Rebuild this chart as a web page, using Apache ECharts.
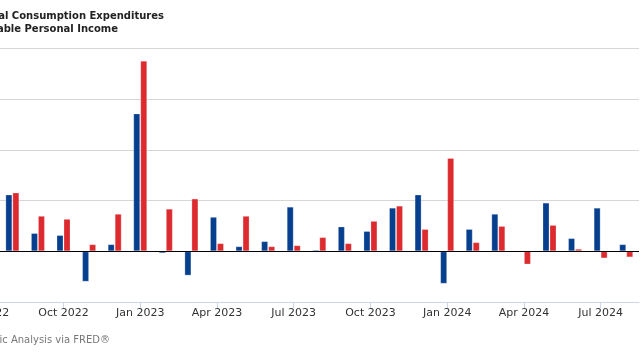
<!DOCTYPE html>
<html>
<head>
<meta charset="utf-8">
<script src="https://cdn.jsdelivr.net/npm/echarts@6/dist/echarts.min.js"></script>
<style>
html,body{margin:0;padding:0;background:#fff;}
#chart{width:640px;height:360px;}
</style>
</head>
<body>
<div id="chart"></div>
<script>
const months = ['Jul 2022','Aug 2022','Sep 2022','Oct 2022','Nov 2022','Dec 2022',
  'Jan 2023','Feb 2023','Mar 2023','Apr 2023','May 2023','Jun 2023',
  'Jul 2023','Aug 2023','Sep 2023','Oct 2023','Nov 2023','Dec 2023',
  'Jan 2024','Feb 2024','Mar 2024','Apr 2024','May 2024','Jun 2024',
  'Jul 2024','Aug 2024'];
const pce = [null,0.56,0.18,0.16,-0.30,0.07,1.36,-0.02,-0.24,0.34,0.05,0.10,
  0.44,0.015,0.245,0.20,0.43,0.56,-0.32,0.22,0.37,0.0,0.48,0.13,0.43,0.07];
const dpi = [null,0.58,0.35,0.32,0.07,0.37,1.88,0.42,0.52,0.08,0.35,0.05,
  0.06,0.14,0.08,0.30,0.45,0.22,0.92,0.09,0.25,-0.13,0.26,0.025,-0.07,-0.06];
const seriesNames = ['Personal Consumption Expenditures','Disposable Personal Income'];
const sourceText = 'Source: U.S. Bureau of Economic Analysis via FRED®';

const chart = echarts.init(document.getElementById('chart'), null, {renderer:'canvas'});
chart.setOption({
  animation:false,
  backgroundColor:'#ffffff',
  grid:{left:-26,right:1,top:48.5,bottom:58,containLabel:false,outerBoundsMode:'none'},
  xAxis:{
    type:'category',
    data:months,
    boundaryGap:true,
    axisLine:{show:true,onZero:false,lineStyle:{color:'#ccd6eb',width:1}},
    axisTick:{show:true,alignWithLabel:true,interval:2,length:6,lineStyle:{color:'#ccd6eb'}},
    axisLabel:{interval:2,color:'#333333',fontFamily:'DejaVu Sans',fontSize:11,margin:6,hideOverlap:false},
    splitLine:{show:false}
  },
  yAxis:{
    type:'value',
    min:-0.5,max:2.0,interval:0.5,
    axisLabel:{show:false},
    axisLine:{show:false},
    axisTick:{show:false},
    splitLine:{lineStyle:{color:'#d6d6d6',width:1}}
  },
  series:[
    {name:seriesNames[0],type:'bar',data:pce,barWidth:7,barGap:'0%',
     itemStyle:{color:'#063f8e',borderColor:'rgba(255,255,255,0.25)',borderWidth:1},
     markLine:{silent:true,symbol:'none',label:{show:false},
       lineStyle:{color:'#000000',width:1.2,type:'solid'},data:[{yAxis:0}]}},
    {name:seriesNames[1],type:'bar',data:dpi,barWidth:7,barGap:'0%',
     itemStyle:{color:'#dc2a2e',borderColor:'rgba(255,255,255,0.25)',borderWidth:1}}
  ],
  graphic:[
    {type:'text',x:164,y:16,style:{text:seriesNames[0],align:'right',verticalAlign:'middle',
      fill:'#222222',font:'bold 10px "DejaVu Sans"'}},
    {type:'text',x:118,y:29,style:{text:seriesNames[1],align:'right',verticalAlign:'middle',
      fill:'#222222',font:'bold 10px "DejaVu Sans"'}},
    {type:'text',x:110,y:340,style:{text:sourceText,align:'right',verticalAlign:'middle',
      fill:'#777777',font:'10px "DejaVu Sans"'}}
  ]
});
</script>
</body>
</html>
